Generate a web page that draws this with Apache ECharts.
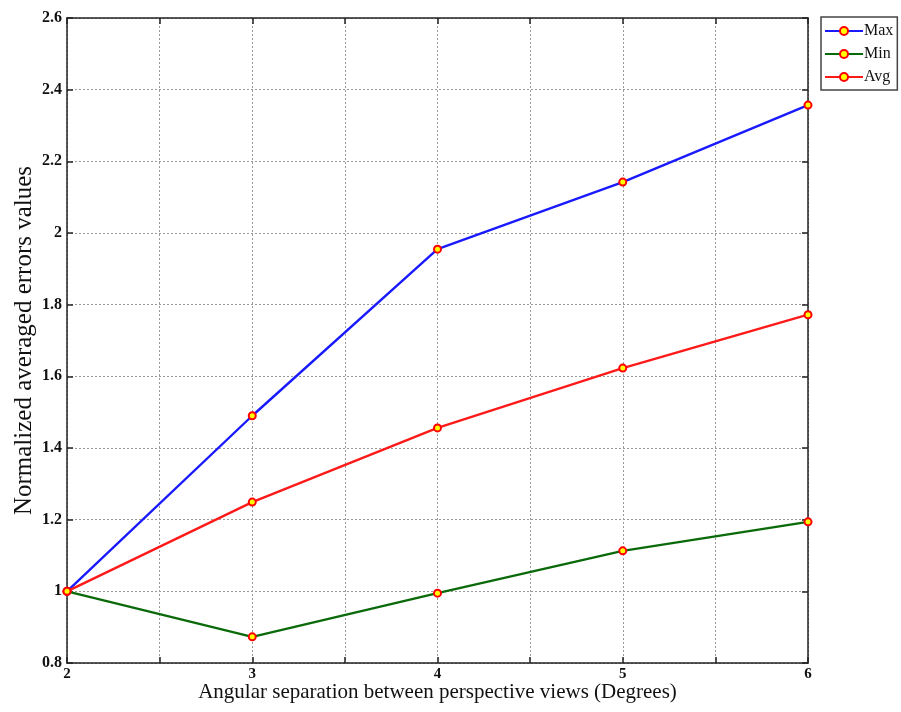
<!DOCTYPE html>
<html>
<head>
<meta charset="utf-8">
<script src="https://cdn.jsdelivr.net/npm/echarts@6/dist/echarts.min.js"></script>
<style>
  html, body { margin: 0; padding: 0; background: #fff; }
  #chart { width: 901px; height: 712px; }
</style>
</head>
<body>
<div id="chart"></div>
<script>
// Angular separation (degrees)
const separation = [2, 3, 4, 5, 6];
// Normalized averaged error values per series
const maxErr = [1.0, 1.49, 1.955, 2.142, 2.357];
const minErr = [1.0, 0.873, 0.995, 1.113, 1.194];
const avgErr = [1.0, 1.249, 1.456, 1.623, 1.772];

const serif = 'Liberation Serif';
const frame = '#222';

function pairs(ys) {
  return separation.map((x, i) => [x, ys[i]]);
}

function lineSeries(name, ys, color) {
  return {
    name: name,
    type: 'line',
    xAxisIndex: 0,
    yAxisIndex: 0,
    data: pairs(ys),
    symbol: 'circle',
    symbolSize: 7,
    lineStyle: { color: color, width: 2.4 },
    itemStyle: { color: '#ffff00', borderColor: '#ff0000', borderWidth: 2 },
    emphasis: { disabled: true },
    z: 3
  };
}

// Mirrored axes give the boxed frame its ticks on the top and right sides
function mirror(base, position) {
  return Object.assign({}, base, {
    position: position,
    name: '',
    axisLabel: { show: false },
    splitLine: { show: false }
  });
}

const xBase = {
  type: 'value',
  min: 2, max: 6, interval: 0.5,
  axisLine: { show: true, onZero: false, lineStyle: { color: frame, width: 1.5 } },
  axisTick: { show: true, inside: true, length: 6, lineStyle: { color: frame, width: 1.5 } }
};
const yBase = {
  type: 'value',
  min: 0.8, max: 2.6, interval: 0.2,
  axisLine: { show: true, onZero: false, lineStyle: { color: frame, width: 1.5 } },
  axisTick: { show: true, inside: true, length: 6, lineStyle: { color: frame, width: 1.5 } }
};
const gridLine = { show: true, lineStyle: { color: '#9a9a9a', type: [2, 2], width: 1 } };

const chart = echarts.init(document.getElementById('chart'), null, { renderer: 'canvas' });
chart.setOption({
  animation: false,
  backgroundColor: '#ffffff',
  grid: {
    left: 67, top: 18, right: 93, bottom: 49,
    containLabel: false,
    outerBoundsMode: 'none',
    show: false
  },
  legend: {
    left: 821, top: 17,
    orient: 'vertical',
    itemWidth: 38, itemHeight: 10, itemGap: 7,
    padding: [6, 4, 5, 3],
    borderColor: '#444', borderWidth: 1.5,
    textStyle: { fontFamily: serif, fontSize: 16, color: '#111', padding: [0, 0, 0, -4] },
    data: ['Max', 'Min', 'Avg']
  },
  xAxis: [
    Object.assign({}, xBase, {
      position: 'bottom',
      name: 'Angular separation between perspective views (Degrees)',
      nameLocation: 'middle', nameGap: 19,
      nameMoveOverlap: false,
      nameTextStyle: { fontFamily: serif, fontSize: 21, color: '#111' },
      axisLabel: {
        fontFamily: serif, fontSize: 15, fontWeight: 'bold', color: '#111', margin: 4,
        formatter: v => (Number.isInteger(v) ? String(v) : '')
      },
      splitLine: gridLine
    }),
    mirror(xBase, 'top')
  ],
  yAxis: [
    Object.assign({}, yBase, {
      position: 'left',
      name: 'Normalized averaged errors values',
      nameLocation: 'middle', nameGap: 30,
      nameMoveOverlap: false,
      nameTextStyle: { fontFamily: serif, fontSize: 25, color: '#111' },
      axisLabel: {
        fontFamily: serif, fontSize: 16, fontWeight: 'bold', color: '#111', margin: 5,
        formatter: v => String(+v.toFixed(1))
      },
      splitLine: gridLine
    }),
    mirror(yBase, 'right')
  ],
  series: [
    lineSeries('Max', maxErr, '#1a1aff'),
    lineSeries('Min', minErr, '#0a6a0a'),
    lineSeries('Avg', avgErr, '#ff1a1a')
  ]
});
</script>
</body>
</html>
